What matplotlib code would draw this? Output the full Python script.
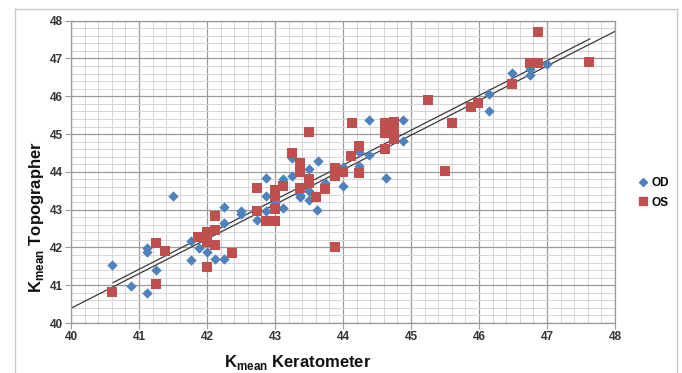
import numpy as np
import matplotlib
matplotlib.use("Agg")
import matplotlib.pyplot as plt
from matplotlib.lines import Line2D

plt.rcParams["font.family"] = ["Liberation Sans", "DejaVu Sans"]
plt.rcParams["mathtext.fontset"] = "custom"
plt.rcParams["mathtext.bf"] = "Liberation Sans:bold"
plt.rcParams["mathtext.rm"] = "Liberation Sans"

# right eye (OD)
od_kerato = [40.61, 40.88, 41.12, 41.12, 41.12, 41.25, 41.50, 41.76, 41.76, 41.88,
             42.00, 42.12, 42.25, 42.25, 42.25, 42.50, 42.50, 42.74, 42.87, 42.87,
             42.87, 43.00, 43.12, 43.12, 43.25, 43.25, 43.37, 43.37, 43.50, 43.50,
             43.50, 43.63, 43.62, 43.74, 44.00, 44.00, 44.24, 44.24, 44.38, 44.38,
             44.63, 44.88, 44.88, 46.14, 46.14, 46.49, 46.75, 46.75, 47.00]
od_topo = [41.53, 40.97, 40.79, 41.99, 41.89, 41.41, 43.35, 42.16, 41.68, 41.99,
           41.87, 41.70, 41.70, 43.08, 42.64, 42.97, 42.88, 42.73, 43.83, 43.35,
           42.97, 43.18, 43.80, 43.04, 44.36, 43.89, 43.33, 43.38, 44.07, 43.48,
           43.26, 44.29, 42.99, 43.70, 44.14, 43.63, 44.52, 44.16, 44.44, 45.36,
           43.85, 45.36, 44.82, 46.07, 45.62, 46.61, 46.55, 46.72, 46.85]

# left eye (OS)
os_kerato = [40.61, 41.25, 41.38, 41.25, 41.87, 42.00, 42.00, 42.00, 42.12, 42.12,
             42.12, 42.37, 42.74, 42.74, 42.87, 43.00, 43.00, 43.00, 43.00, 43.12,
             43.25, 43.37, 43.37, 43.37, 43.50, 43.50, 43.50, 43.61, 43.74, 43.88,
             43.88, 43.88, 44.00, 44.12, 44.13, 44.24, 44.24, 44.62, 44.62, 44.75,
             44.75, 44.75, 44.62, 45.25, 45.50, 45.61, 45.88, 45.98, 46.49, 46.75,
             46.87, 46.87, 47.62]
os_topo = [40.81, 42.12, 41.90, 41.03, 42.27, 42.42, 42.15, 41.47, 42.83, 42.46,
           42.07, 41.85, 43.58, 42.97, 42.69, 43.52, 43.35, 43.01, 42.69, 43.63,
           44.50, 44.24, 44.00, 43.58, 45.05, 43.80, 43.70, 43.33, 43.54, 44.10,
           43.89, 42.00, 44.00, 44.41, 45.29, 44.68, 43.97, 45.29, 45.03, 45.33,
           45.07, 44.87, 44.61, 45.89, 44.03, 45.29, 45.71, 45.83, 46.33, 46.88,
           46.88, 47.69, 46.92]

# trend lines: (slope, intercept, x start, x end)
trend_a = (0.916, 3.75, 40.0, 48.0)
trend_b = (0.920, 3.70, 40.62, 47.63)

blue = "#4F81BD"
red = "#C0504D"

fig = plt.figure(figsize=(6.82, 3.73), dpi=100)
W, H = 682, 373
ax = fig.add_axes([71 / W, 1 - 323 / H, 544 / W, 302.3 / H])

# outer chart frame
for xs, ys in [([15, 15], [9, 373]), ([15, 677], [9, 9]), ([677, 677], [9, 373])]:
    fig.add_artist(Line2D([x / W for x in xs], [1 - y / H for y in ys],
                          color="#c8c8c8", lw=1.0))

ax.set_xlim(40, 48)
ax.set_ylim(40, 48)
ax.set_xticks(np.arange(40, 49, 1))
ax.set_yticks(np.arange(40, 49, 1))
ax.set_xticks(np.arange(40, 48.01, 0.2), minor=True)
ax.set_yticks(np.arange(40, 48.01, 0.2), minor=True)
ax.grid(which="minor", color="#d6d6d6", lw=0.7)
ax.grid(which="major", color="#9a9a9a", lw=0.9)
ax.set_axisbelow(True)
ax.tick_params(which="minor", length=0)
ax.tick_params(which="major", length=4, color="#9a9a9a", labelsize=8.5,
               labelcolor="#333333", pad=2)
for lab in ax.get_xticklabels() + ax.get_yticklabels():
    lab.set_fontweight("bold")
for side in ["left", "bottom", "right", "top"]:
    ax.spines[side].set_color("#9a9a9a")
    ax.spines[side].set_linewidth(0.9)

for m, c, x0, x1 in (trend_a, trend_b):
    xx = np.array([x0, x1])
    ax.plot(xx, m * xx + c, color="#3a3a3a", lw=0.9, zorder=2)

ax.scatter(od_kerato, od_topo, marker="D", s=28, color=blue, lw=0,
           zorder=3, label="OD")
ax.scatter(os_kerato, os_topo, marker="s", s=50, color=red, lw=0,
           zorder=3, label="OS")

fig.text(298 / W, 1 - 362 / H, r"K$_{\mathbf{mean}}$ Keratometer",
         ha="center", va="center", fontsize=12, fontweight="bold", color="#111111")
fig.text(37 / W, 1 - 217 / H, r"K$_{\mathbf{mean}}$ Topographer",
         ha="center", va="center", rotation=90, fontsize=12,
         fontweight="bold", color="#111111")

leg = fig.legend(handles=[
    Line2D([], [], marker="D", ls="", color=blue, ms=4, label="OD"),
    Line2D([], [], marker="s", ls="", color=red, ms=5.5, label="OS")],
    loc="center left", bbox_to_anchor=(628 / W, 1 - 193 / H), frameon=False,
    handlelength=0.8, handletextpad=0.3, labelspacing=0.6,
    prop={"size": 8.5, "weight": "bold"})

fig.savefig("out.png", dpi=100)
